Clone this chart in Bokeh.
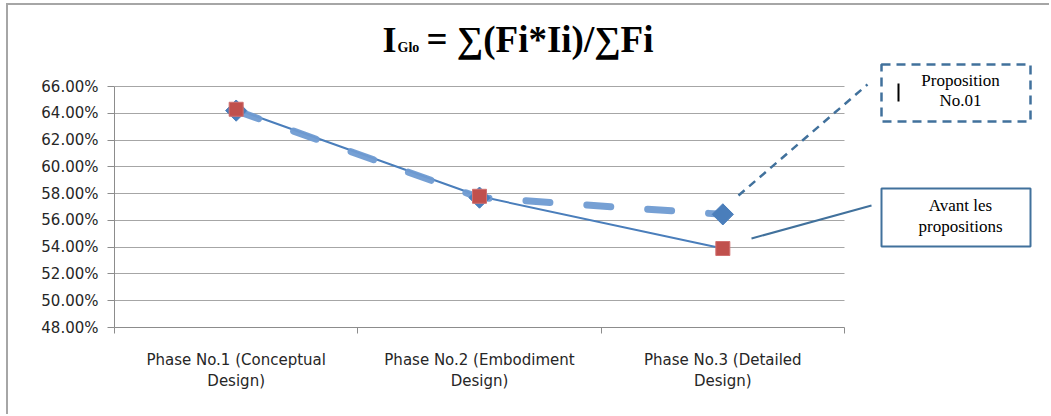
import math
from bokeh.plotting import figure
from bokeh.models import (Range1d, FixedTicker, NumeralTickFormatter, Label,
                          BoxAnnotation, Arrow)
from bokeh.embed import file_html
from bokeh.resources import INLINE

categories = ["Phase No.1 (Conceptual\nDesign)",
              "Phase No.2 (Embodiment\nDesign)",
              "Phase No.3 (Detailed\nDesign)"]
proposition = [0.642, 0.577, 0.5645]
avant = [0.643, 0.578, 0.539]
y_ticks = [0.48, 0.50, 0.52, 0.54, 0.56, 0.58, 0.60, 0.62, 0.64, 0.66]

# ---- layout (pixels, page coordinates) ----
PAGE_W, PAGE_H = 1051, 416
OX, OY = 8, 5            # canvas offset produced by the chart border (margin + 2px border)
W, H = PAGE_W - OX, PAGE_H - OY
F_LEFT, F_RIGHT, F_TOP, F_BOTTOM = 114, 1048, 8, 327   # frame edges
AX_RIGHT, AX_TOP = 844, 86                              # chart area inside frame
n = len(categories)
px_x = (AX_RIGHT - F_LEFT) / n
px_y = (F_BOTTOM - AX_TOP) / (y_ticks[-1] - y_ticks[0])
X_END = (F_RIGHT - F_LEFT) / px_x
Y_END = y_ticks[0] + (F_BOTTOM - F_TOP) / px_y


def dx(x):
    return (x - F_LEFT) / px_x


def dy(y):
    return y_ticks[0] + (F_BOTTOM - y) / px_y


xpos = [i + 0.5 for i in range(n)]

p = figure(width=W, height=H, output_backend="svg", toolbar_location=None,
           x_range=Range1d(0, X_END), y_range=Range1d(y_ticks[0], Y_END),
           min_border_left=F_LEFT - OX, min_border_right=PAGE_W - F_RIGHT,
           min_border_top=F_TOP - OY, min_border_bottom=PAGE_H - F_BOTTOM)
p.styles = {"margin-left": "6px", "margin-top": "3px",
            "border-left": "2px solid #a6a6a6", "border-top": "2px solid #a6a6a6"}
p.outline_line_color = None
p.background_fill_color = "white"
p.border_fill_color = "white"

# axes
p.yaxis.ticker = FixedTicker(ticks=y_ticks)
p.yaxis.formatter = NumeralTickFormatter(format="0.00%")
p.yaxis.bounds = (y_ticks[0], y_ticks[-1])
p.xaxis.bounds = (0, n)
p.xaxis.ticker = FixedTicker(ticks=xpos, minor_ticks=list(range(n + 1)))
p.xaxis.major_label_overrides = {x: c for x, c in zip(xpos, categories)}
for ax in (p.xaxis, p.yaxis):
    ax.axis_line_color = "#8c8c8c"
    ax.axis_line_width = 1
    ax.major_tick_line_color = "#8c8c8c"
    ax.minor_tick_line_color = "#8c8c8c"
    ax.major_label_text_font = "DejaVu Sans"
    ax.major_label_text_color = "#262626"
    ax.major_label_text_font_size = "15px"
p.yaxis.major_tick_in = 0
p.yaxis.major_tick_out = 7
p.yaxis.minor_tick_out = 0
p.yaxis.minor_tick_in = 0
p.yaxis.major_label_standoff = 9
p.xaxis.major_tick_in = 0
p.xaxis.major_tick_out = 0
p.xaxis.minor_tick_in = 0
p.xaxis.minor_tick_out = 6
p.xaxis.major_label_standoff = 17
p.xgrid.grid_line_color = None
p.ygrid.ticker = FixedTicker(ticks=y_ticks)
p.ygrid.cross_bounds = (0, n)
p.ygrid.grid_line_color = "#a6a6a6"
p.ygrid.grid_line_width = 1

# series
p.line(xpos, avant, line_color="#4a7ebb", line_width=2)
p.line(xpos, proposition, line_color="#6f9bd2", line_width=7, line_dash="24 37",
       line_cap="round", line_alpha=0.95)
p.scatter(xpos, proposition, marker="square", angle=math.pi / 4, size=15,
          fill_color="#4a7ebb", line_color="#4a7ebb")
p.scatter(xpos, avant, marker="square", size=14, fill_color="#c0504d",
          line_color="#d07070")

# title
p.add_layout(Label(x=dx(382), y=dy(39), text="I", text_font="Liberation Serif",
                   text_font_style="bold", text_font_size="36px", text_color="#000000",
                   text_baseline="alphabetic"))
p.add_layout(Label(x=dx(397), y=dy(47), text="Glo", text_font="Liberation Serif",
                   text_font_style="bold", text_font_size="14px", text_color="#000000",
                   text_baseline="alphabetic"))
p.add_layout(Label(x=dx(426), y=dy(39), text="= \u2211(Fi*Ii)/\u2211Fi",
                   text_font="Liberation Serif", text_font_style="bold",
                   text_font_size="37px", text_color="#000000", text_baseline="alphabetic"))

# callout boxes and leaders
box_col = "#41719c"
p.add_layout(Arrow(x_start=dx(738), y_start=dy(195), x_end=dx(867), y_end=dy(84),
                   end=None, line_color=box_col, line_width=2.5, line_dash="8 6"))
p.add_layout(Arrow(x_start=dx(751), y_start=dy(238), x_end=dx(871), y_end=dy(205),
                   end=None, line_color=box_col, line_width=2))
p.add_layout(BoxAnnotation(left=dx(881), right=dx(1030), top=dy(64), bottom=dy(121),
                           fill_color="white", fill_alpha=1, line_color=box_col,
                           line_alpha=1, line_width=2.5, line_dash="9 6"))
p.add_layout(BoxAnnotation(left=dx(881), right=dx(1030), top=dy(188), bottom=dy(246),
                           fill_color="white", fill_alpha=1, line_color=box_col,
                           line_alpha=1, line_width=2))
p.add_layout(Arrow(x_start=dx(898), y_start=dy(83), x_end=dx(898), y_end=dy(101),
                   end=None, line_color="#000000", line_width=2))
for txt, y in (("Proposition", 80), ("No.01", 100), ("Avant les", 205), ("propositions", 226)):
    p.add_layout(Label(x=dx(960), y=dy(y), text=txt, text_font="Liberation Serif",
                       text_font_size="17px", text_color="#000000",
                       text_align="center", text_baseline="middle"))

open("out.html", "w").write(file_html(p, INLINE))
